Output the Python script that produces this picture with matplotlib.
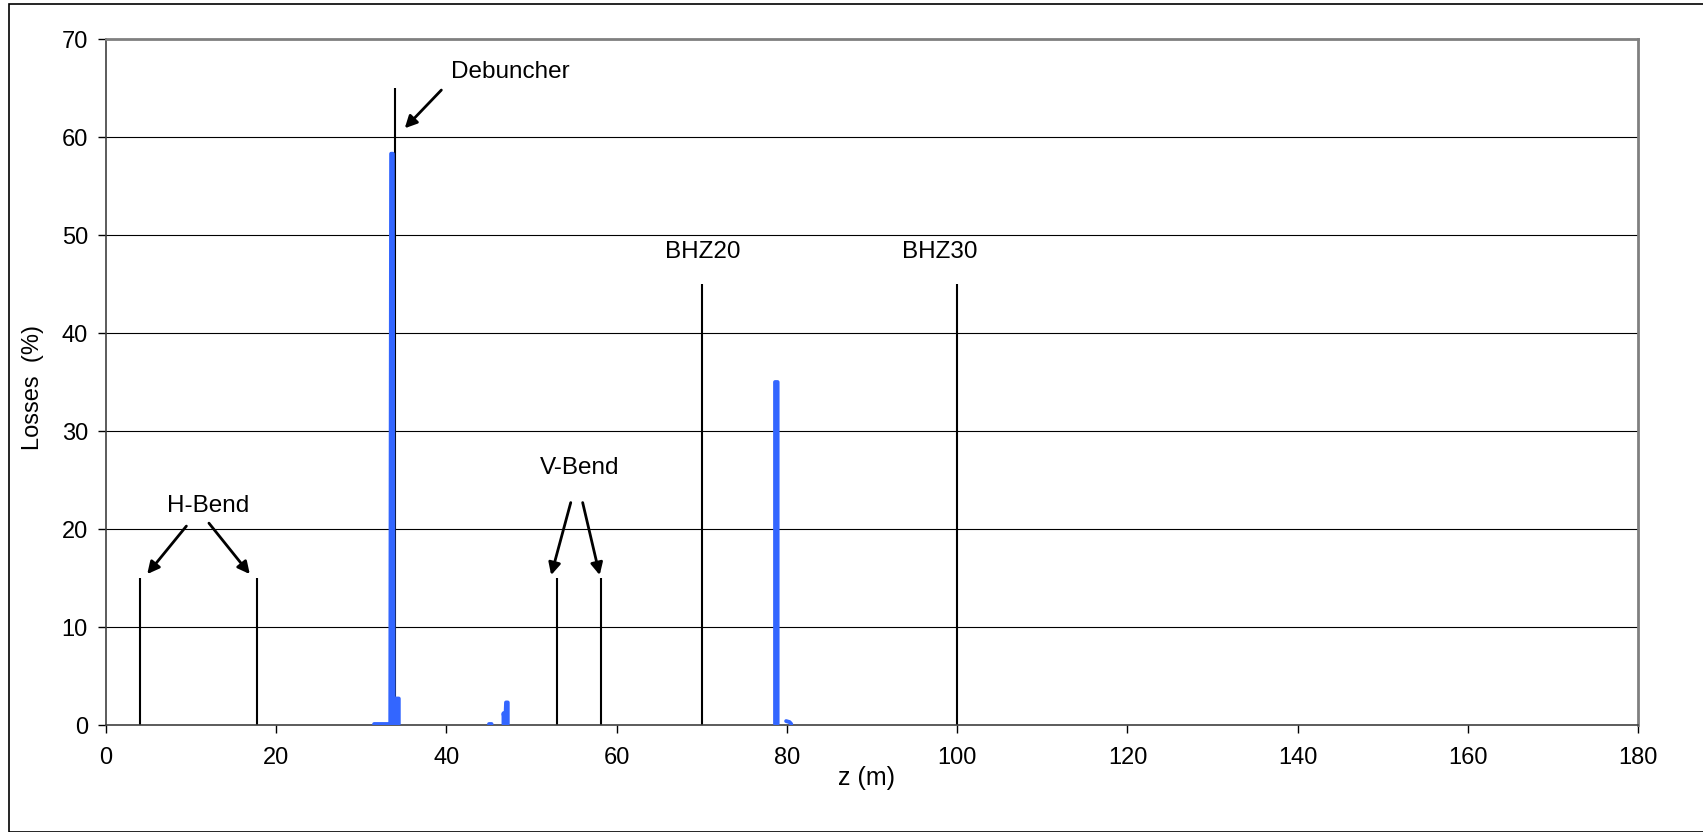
import numpy as np
import matplotlib
matplotlib.use("Agg")
import matplotlib.pyplot as plt
from matplotlib.patches import Rectangle

plt.rcParams['font.family'] = ['Liberation Sans', 'DejaVu Sans']

# beam losses along the line
z = [10.2, np.nan,
     31.5, 31.9, 32.3, 32.7, 33.1, 33.4, 33.5, 33.7, 33.8, 34.1, 34.1, 34.4, 34.4, np.nan,
     45.0, 45.3, np.nan,
     46.7, 46.7, 46.9, 47.0, 47.2, 47.2, np.nan,
     78.6, 78.6, 78.9, 78.9, np.nan,
     79.9, 80.3, 80.5, np.nan,
     154.6]
loss = [0.1, np.nan,
        0.1, 0.1, 0.1, 0.1, 0.1, 0.1, 58.3, 58.3, 0.1, 0.1, 2.7, 2.7, 0.1, np.nan,
        0.1, 0.1, np.nan,
        0.1, 1.2, 0.1, 2.3, 2.3, 0.1, np.nan,
        0.1, 35.0, 35.0, 0.1, np.nan,
        0.4, 0.3, 0.1, np.nan,
        0.1]

# element markers
marker_z = [4.05, 17.8, 34.0, 53.0, 58.2, 70.0, 100.0]
marker_h = [15, 15, 65, 15, 15, 45, 45]

fig = plt.figure(figsize=(17.03, 8.32), dpi=100)
ax = fig.add_axes([0.0622, 0.1286, 0.8998, 0.8244])

for y in range(10, 80, 10):
    ax.axhline(y, color='black', lw=0.8, zorder=1)

ax.vlines(marker_z, 0, marker_h, color='black', lw=1.5, zorder=2)
ax.plot(z, loss, color='#3366ff', lw=2.8, solid_capstyle='round', zorder=3)

ax.set_xlim(0, 180)
ax.set_ylim(0, 70)
ax.set_xticks(range(0, 181, 20))
ax.set_yticks(range(0, 71, 10))
ax.tick_params(direction='out', length=6, width=1, labelsize=17)
ax.tick_params(axis='x', pad=10)
ax.tick_params(axis='y', pad=7)

for s in ['left', 'bottom']:
    ax.spines[s].set_color('#404040')
    ax.spines[s].set_linewidth(1.2)
for s in ['top', 'right']:
    ax.spines[s].set_color('#808080')
    ax.spines[s].set_linewidth(2)

arrow = dict(arrowstyle='-|>', color='black', lw=2, mutation_scale=18,
             shrinkA=0, shrinkB=0)
fs = 17.5
ax.text(47.5, 66.6, 'Debuncher', ha='center', va='center', fontsize=fs)
ax.annotate('', xy=(35.1, 60.9), xytext=(39.4, 64.8), arrowprops=arrow)

ax.text(12.0, 22.3, 'H-Bend', ha='center', va='center', fontsize=fs)
ax.annotate('', xy=(4.85, 15.4), xytext=(9.45, 20.3), arrowprops=arrow)
ax.annotate('', xy=(16.9, 15.4), xytext=(12.1, 20.6), arrowprops=arrow)

ax.text(55.7, 26.2, 'V-Bend', ha='center', va='center', fontsize=fs)
ax.annotate('', xy=(52.3, 15.3), xytext=(54.6, 22.7), arrowprops=arrow)
ax.annotate('', xy=(58.0, 15.3), xytext=(56.0, 22.7), arrowprops=arrow)

ax.text(70.1, 48.3, 'BHZ20', ha='center', va='center', fontsize=fs)
ax.text(98.0, 48.3, 'BHZ30', ha='center', va='center', fontsize=fs)

fig.text(866 / 1703, 1 - 778 / 832, 'z (m)', ha='center', va='center', fontsize=18)
fig.text(33 / 1703, 1 - 387 / 832, 'Losses  (%)', ha='center', va='center',
         rotation=90, fontsize=17)

fig.patches.append(Rectangle((9 / 1703, 0), 1.0, 1 - 4 / 832, transform=fig.transFigure,
                             fill=False, edgecolor='black', lw=1.2))

fig.savefig('out.png', dpi=100)
